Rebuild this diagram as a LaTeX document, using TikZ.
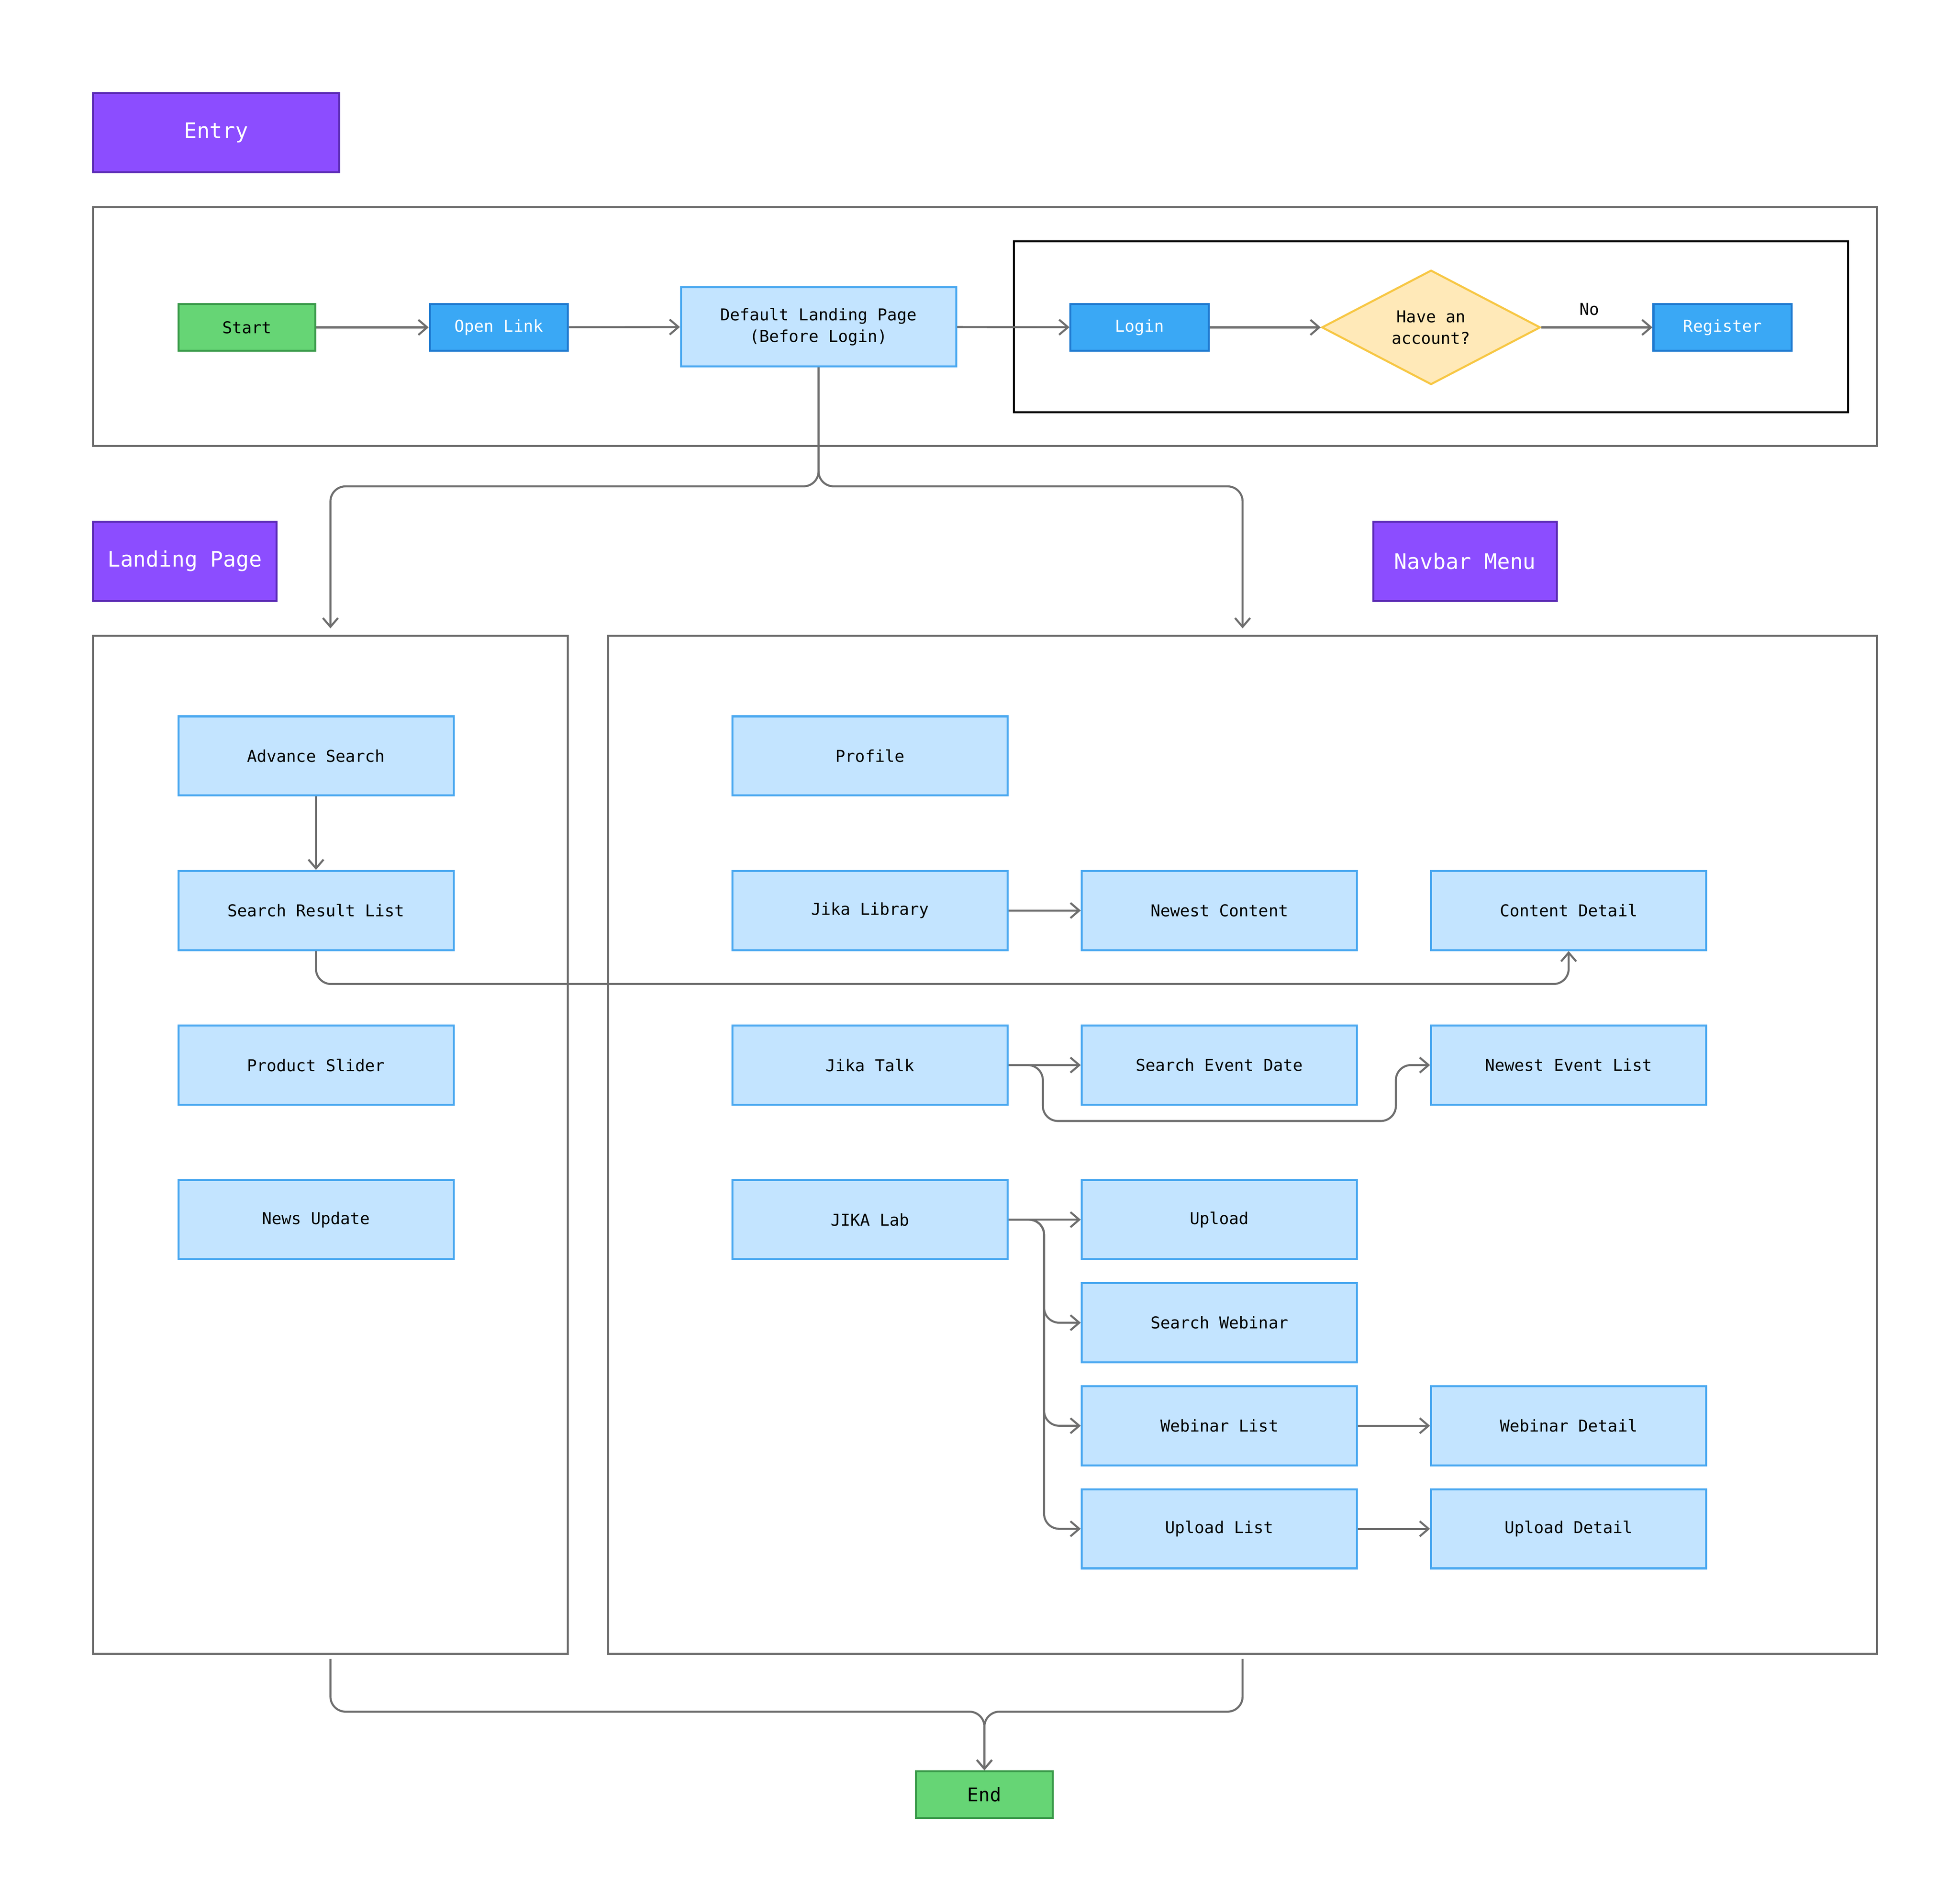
\documentclass[tikz,border=0pt]{standalone}
\usepackage{fontspec}
\setmonofont{DejaVu Sans Mono}
\usetikzlibrary{arrows.meta,shapes.geometric}
\definecolor{pur}{HTML}{8C4DFF}\definecolor{purd}{HTML}{5B2BB5}
\definecolor{grn}{HTML}{66D575}\definecolor{grnd}{HTML}{3A9A4A}
\definecolor{blu}{HTML}{3AA8F5}\definecolor{blud}{HTML}{1F7AD0}
\definecolor{lbl}{HTML}{C3E4FF}\definecolor{lbld}{HTML}{4AA8F0}
\definecolor{yel}{HTML}{FFE9B8}\definecolor{yeld}{HTML}{F7C744}
\definecolor{ln}{HTML}{6E6E6E}
\begin{document}
\begin{tikzpicture}[x=1pt,y=-1pt,font=\ttfamily\fontsize{13}{17}\selectfont,
 base/.style={draw,line width=1.6pt,inner sep=0,align=center},
 lb/.style={base,fill=lbl,draw=lbld,minimum width=219pt,minimum height=63pt},
 bb/.style={base,fill=blu,draw=blud,text=white,minimum width=110pt,minimum height=37pt},
 gb/.style={base,fill=grn,draw=grnd,minimum width=109pt,minimum height=37pt},
 pb/.style={base,fill=pur,draw=purd,text=white,minimum height=63pt,font=\ttfamily\fontsize{17}{20}\selectfont},
 frame/.style={draw=ln,line width=1.6pt},
 arr/.style={draw=ln,line width=1.6pt,-{Straight Barb[length=7pt,width=12pt]},rounded corners=12pt},
 ln/.style={draw=ln,line width=1.6pt,rounded corners=12pt}]
\useasboundingbox (0,0) rectangle (1560,1515);
\node[pb,minimum width=196pt] (entry) at (172,105.5) {Entry};
\draw[frame] (74,165) rectangle (1494,355);
\draw[line width=1.6pt] (807,192) rectangle (1471,328);
\node[gb] (start) at (196.5,260.5) {Start};
\node[bb] (open) at (397,260.5) {Open Link};
\node[lb] (dl) at (651.5,260) {Default Landing Page\\(Before Login)};
\node[bb] (login) at (907,260.5) {Login};
\node[diamond,draw=yeld,fill=yel,line width=1.6pt,minimum width=174pt,minimum height=91pt,inner sep=0,align=center,aspect=1.9] (have) at (1139,260.5) {Have an\\account?};
\node[bb] (reg) at (1371,260.5) {Register};
\node (no) at (1265,246) {No};
\draw[arr] (start) -- (open);
\draw[arr] (open) -- (dl);
\draw[arr] (dl) -- (login);
\draw[arr] (login) -- (have);
\draw[arr] (have) -- (reg);
\node[pb,minimum width=146pt] (lp) at (147,446.5) {Landing Page};
\node[pb,minimum width=146pt] (nm) at (1166,446.5) {Navbar Menu};
\draw[frame] (74,506) rectangle (452,1316);
\draw[frame] (484,506) rectangle (1494,1316);
\coordinate (lt) at (263,500); \coordinate (rt) at (989,500);
\draw[arr] (dl.south) -- (651.5,387) -| (lt);
\draw[arr] (dl.south) -- (651.5,387) -| (rt);
\node[lb] (as) at (251.5,601.5) {Advance Search};
\node[lb] (sr) at (251.5,724.5) {Search Result List};
\node[lb] (ps) at (251.5,847.5) {Product Slider};
\node[lb] (nu) at (251.5,970.5) {News Update};
\node[lb] (pr) at (692.5,601.5) {Profile};
\node[lb] (jl) at (692.5,724.5) {Jika Library};
\node[lb] (jt) at (692.5,847.5) {Jika Talk};
\node[lb] (jx) at (692.5,970.5) {JIKA Lab};
\node[lb] (nc) at (970.5,724.5) {Newest Content};
\node[lb] (se) at (970.5,847.5) {Search Event Date};
\node[lb] (up) at (970.5,970.5) {Upload};
\node[lb] (sw) at (970.5,1052.5) {Search Webinar};
\node[lb] (wl) at (970.5,1134.5) {Webinar List};
\node[lb] (ul) at (970.5,1216.5) {Upload List};
\node[lb] (cd) at (1248.5,724.5) {Content Detail};
\node[lb] (ne) at (1248.5,847.5) {Newest Event List};
\node[lb] (wd) at (1248.5,1134.5) {Webinar Detail};
\node[lb] (ud) at (1248.5,1216.5) {Upload Detail};
\draw[arr] (as) -- (sr);
\draw[arr] (sr.south) -- (251.5,783) -| (cd.south);
\draw[arr] (jl) -- (nc);
\draw[arr] (jt) -- (se);
\draw[arr] (jt.east) -- (830,847.5) -- (830,892) -| (1111,847.5) -- (ne.west);
\draw[arr] (jx) -- (up);
\draw[arr] (jx.east) -- (831,970.5) |- (sw.west);
\draw[arr] (jx.east) -- (831,970.5) |- (wl.west);
\draw[arr] (jx.east) -- (831,970.5) |- (ul.west);
\draw[arr] (wl) -- (wd);
\draw[arr] (ul) -- (ud);
\node[gb,font=\ttfamily\fontsize{15}{18}\selectfont] (end) at (783.5,1428) {End};
\coordinate (lb1) at (263,1320); \coordinate (rb1) at (989,1320);
\draw[arr] (lb1) |- (783.5,1362) -- (end.north);
\draw[arr] (rb1) |- (783.5,1362) -- (end.north);
\end{tikzpicture}
\end{document}
